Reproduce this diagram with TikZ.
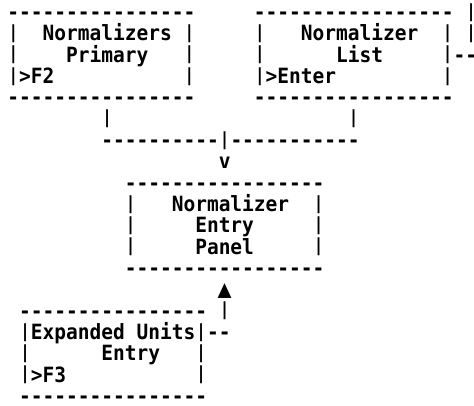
\documentclass[tikz,border=0pt]{standalone}
\usepackage{fontspec}
\setmonofont{DejaVu Sans Mono}[FakeStretch=0.9287]
\newcommand{\asccell}[4]{\node[asc] (#3) at ({7.43+11.74*#1},{-19.5-21.33*#2}) {#4};}
\newcommand{\pp}{\makebox[11.74pt][c]{\fontsize{18}{18}\selectfont\raisebox{2.2pt}{|}}}
\newcommand{\uptri}{\makebox[11.74pt][c]{\fontsize{25}{25}\selectfont\raisebox{-0.5pt}{▲}}}
\begin{document}
\begin{tikzpicture}[x=1pt,y=1pt,
  asc/.style={anchor=base west,inner sep=0pt,outer sep=0pt,
    font=\fontsize{21}{21.33}\selectfont\ttfamily\bfseries}]
\useasboundingbox (0,0) rectangle (474,-405);
% row 0
\asccell{0}{0}{aTop}{----------------}
\asccell{21}{0}{bTop}{-----------------}
\asccell{39}{0}{rA}{\pp}
% row 1
\asccell{0}{1}{aL1}{\pp}
\asccell{3}{1}{aT1}{Normalizers}
\asccell{15}{1}{aR1}{\pp}
\asccell{21}{1}{bL1}{\pp}
\asccell{25}{1}{bT1}{Normalizer}
\asccell{37}{1}{bR1}{\pp}
\asccell{39}{1}{rB}{\pp}
% row 2
\asccell{0}{2}{aL2}{\pp}
\asccell{5}{2}{aT2}{Primary}
\asccell{15}{2}{aR2}{\pp}
\asccell{21}{2}{bL2}{\pp}
\asccell{28}{2}{bT2}{List}
\asccell{37}{2}{bR2}{\pp--}
% row 3
\asccell{0}{3}{aT3}{\pp>F2}
\asccell{15}{3}{aR3}{\pp}
\asccell{21}{3}{bT3}{\pp>Enter}
\asccell{37}{3}{bR3}{\pp}
% row 4
\asccell{0}{4}{aBot}{----------------}
\asccell{21}{4}{bBot}{-----------------}
% row 5
\asccell{8}{5}{aDown}{\pp}
\asccell{29}{5}{bDown}{\pp}
% row 6
\asccell{8}{6}{join}{----------\pp-----------}
% row 7
\asccell{18}{7}{arrV}{v}
% row 8
\asccell{10}{8}{cTop}{-----------------}
% row 9
\asccell{10}{9}{cL1}{\pp}
\asccell{14}{9}{cT1}{Normalizer}
\asccell{26}{9}{cR1}{\pp}
% row 10
\asccell{10}{10}{cL2}{\pp}
\asccell{16}{10}{cT2}{Entry}
\asccell{26}{10}{cR2}{\pp}
% row 11
\asccell{10}{11}{cL3}{\pp}
\asccell{16}{11}{cT3}{Panel}
\asccell{26}{11}{cR3}{\pp}
% row 12
\asccell{10}{12}{cBot}{-----------------}
% row 13
\asccell{18}{13}{arrUp}{\uptri}
% row 14
\asccell{1}{14}{dTop}{----------------}
\asccell{18}{14}{dUp}{\pp}
% row 15
\asccell{1}{15}{dT1}{\pp Expanded Units\pp--}
% row 16
\asccell{1}{16}{dL2}{\pp}
\asccell{8}{16}{dT2}{Entry}
\asccell{16}{16}{dR2}{\pp}
% row 17
\asccell{1}{17}{dT3}{\pp>F3}
\asccell{16}{17}{dR3}{\pp}
% row 18
\asccell{1}{18}{dBot}{----------------}
\end{tikzpicture}
\end{document}
